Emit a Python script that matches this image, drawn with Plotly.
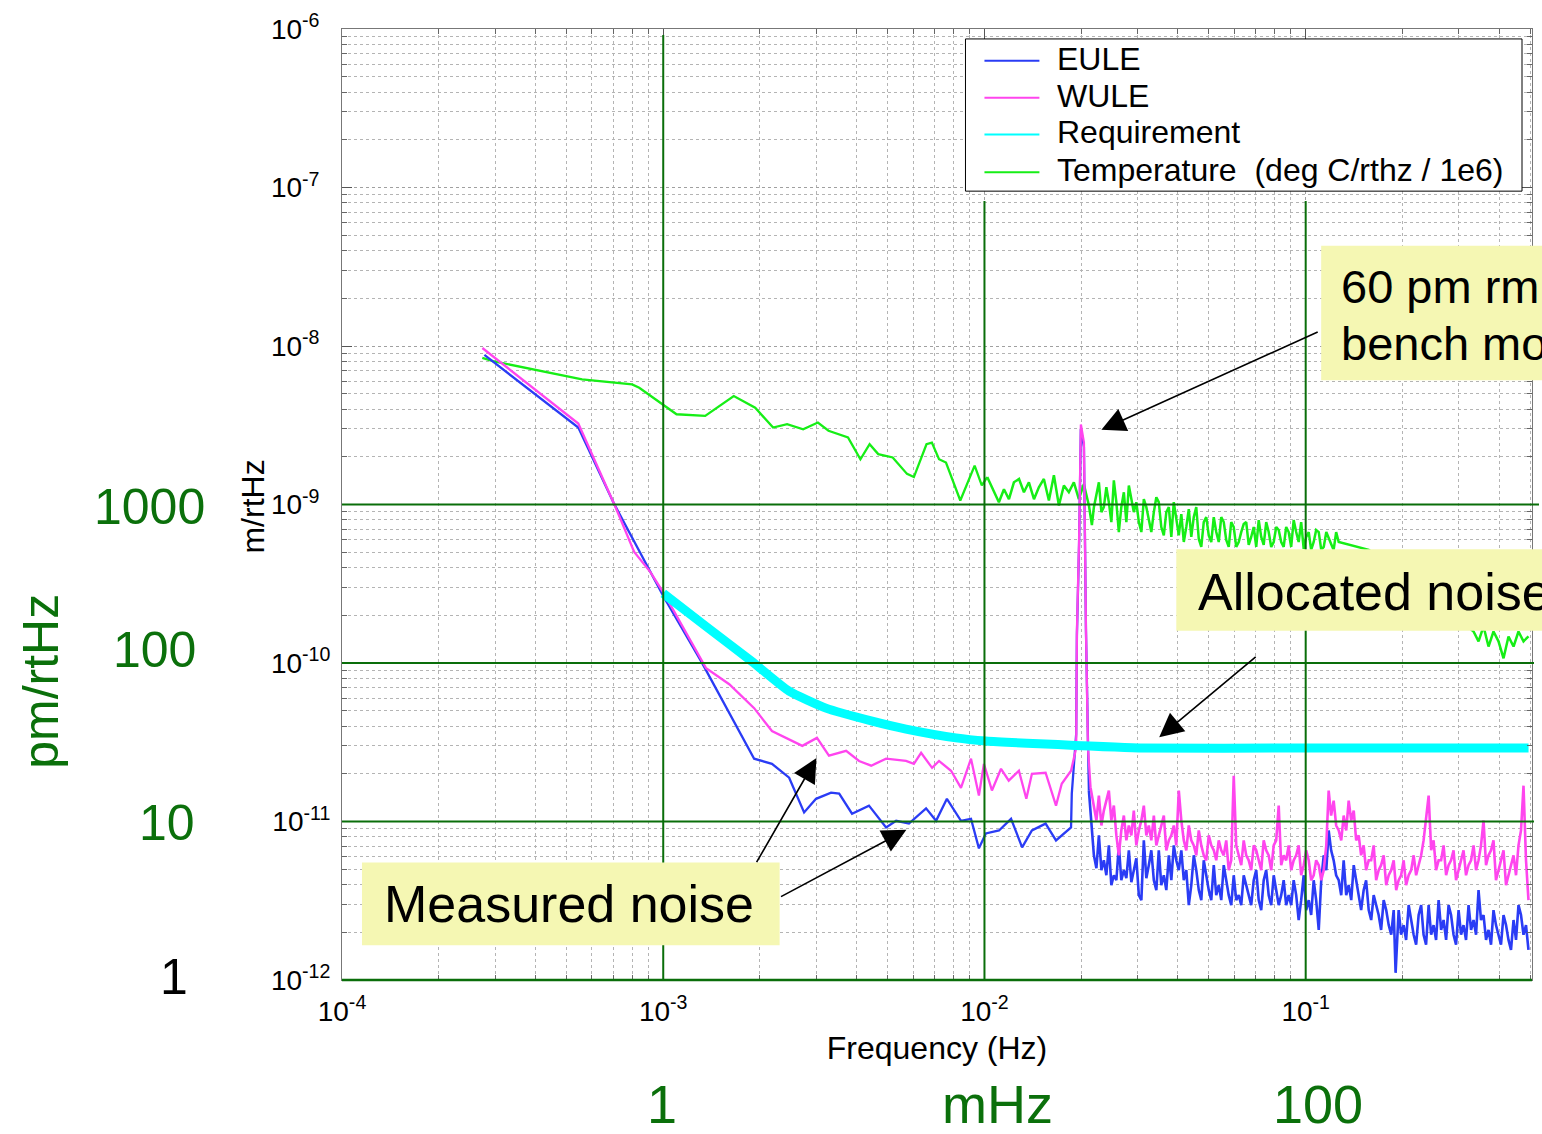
import plotly.graph_objects as go

# ---------------- data (frequency in mHz, amplitude in pm/rtHz; temperature in mK/rtHz) ----------------
eule_f_mhz = [0.2775, 0.544, 0.704, 1.007, 1.313, 1.919, 2.18, 2.466, 2.745, 2.99, 3.33, 3.53, 3.87, 4.37,
              4.94, 5.31, 5.82, 6.58, 7.07, 7.64, 8.45, 9.08, 9.61, 10.1, 11.1, 12.1, 13.1, 14.05, 15.5,
              16.7, 18.6, 18.7, 19.3, 19.4, 19.7, 19.96, 20.4, 20.7, 21.14,
              21.91, 22.71, 23.53, 24.39, 25.28, 26.20, 27.16, 28.15, 29.17, 30.24, 31.34, 32.48, 33.67,
              34.89, 36.17, 37.49, 38.85, 40.27, 41.74, 43.26, 44.83, 46.47, 48.16, 49.92, 51.74, 53.62,
              55.58, 57.60, 59.70, 61.88, 64.13, 66.47, 68.90, 71.41, 74.01, 76.71, 79.51, 82.41, 85.41,
              88.52, 91.75, 95.10, 98.57, 102.2, 105.9, 109.8, 113.8, 117.9, 122.2, 126.7, 131.3, 136.1,
              141.1, 146.2, 151.5, 157.1, 162.8, 168.7, 174.9, 181.3, 187.9, 190.5, 194.7, 201.8, 209.2,
              216.8, 224.7, 232.8, 241.4, 250.1, 259.3, 268.7, 278.5, 288.6, 299.2, 310.0, 321.4, 333.1,
              345.2, 357.8, 370.8, 384.3, 398.3, 412.9, 427.9, 443.6, 459.7, 476.5, 493.8]
eule_pm = [8780, 3058, 1005, 258, 102.4, 24.9, 23.1, 18.9, 11.4, 13.9, 15.2, 15.0, 11.2, 12.6,
           9.17, 10.1, 9.7, 12.1, 10.1, 13.9, 10.1, 10.4, 6.77, 8.41, 8.78, 10.4, 6.87, 8.78, 9.7,
           7.6, 9.17, 15.0, 35.7, 150, 550, 3000, 2300, 160, 15.65,
           6.12, 8.17, 5.69, 7.07, 4.58, 7.07, 4.93, 6.58, 4.93, 3.43, 7.60, 5.30, 4.26,
           6.58, 4.58, 6.12, 7.07, 4.93, 4.26, 2.97, 6.12, 3.69, 5.69, 3.69, 5.30, 3.97,
           5.30, 3.43, 4.58, 3.43, 4.58, 3.43, 4.26, 3.19, 4.26, 3.43, 4.58, 2.97, 4.26,
           3.43, 4.26, 2.39, 4.58, 3.19, 4.26, 2.07, 6.12, 8.78, 5.69, 4.26, 5.69, 3.97,
           5.30, 3.43, 3.69, 2.76, 3.43, 2.57, 3.19, 2.22, 2.76, 1.11, 2.76, 2.22, 2.97,
           1.93, 2.57, 1.93, 2.97, 2.22, 3.19, 2.39, 2.97, 1.93, 2.76, 2.22, 2.97, 2.39,
           3.69, 2.57, 2.07, 2.76, 1.93, 2.57, 1.79, 2.39, 2.97, 1.93, 1.55]
# additional in-between readings of the dense high-frequency band
eule_extra_f_mhz = [22.31, 23.12, 23.96, 24.83, 25.74, 26.67, 27.65, 28.66, 29.70, 30.79, 31.91, 33.07,
                    34.28, 35.52, 36.82, 38.17, 39.55, 41.00, 42.49, 44.04, 45.64, 47.31, 49.03, 50.82,
                    52.67, 54.59, 56.58, 58.64, 60.78, 63.00, 65.29, 67.67, 70.15, 72.70, 75.35, 78.10,
                    80.95, 83.90, 86.95, 90.12, 93.41, 96.82, 100.35, 104.0, 107.8, 111.8, 115.9, 120.0,
                    124.4, 129.0, 133.7, 138.6, 143.6, 148.8, 154.2, 159.9, 165.7, 171.7, 178.1, 184.6,
                    198.2, 205.4, 213.0, 220.7, 228.8, 237.0, 245.8, 254.6, 264.0, 273.6, 283.5, 293.8,
                    304.6, 315.6, 327.2, 339.1, 351.4, 364.3, 377.5, 391.2, 405.5, 420.4, 435.6, 451.6,
                    468.0, 485.1]
eule_extra_pm = [5.07, 4.93, 4.58, 3.97, 4.26, 4.26, 4.39, 4.14, 5.86, 3.19, 4.39, 6.58,
                 3.69, 3.97, 3.69, 4.26, 5.69, 6.58, 4.93, 3.97, 4.93, 3.19, 4.58, 3.19,
                 3.43, 3.19, 4.26, 2.97, 3.19, 2.97, 3.97, 2.97, 4.93, 2.76, 4.93, 2.97,
                 3.69, 3.43, 2.97, 2.97, 3.43, 3.19, 2.76, 2.57, 3.19, 4.26, 4.93, 6.58,
                 4.58, 3.43, 3.43, 3.19, 4.26, 2.76, 4.26, 2.39, 2.97, 2.07, 2.76, 1.93,
                 1.93, 1.79, 2.39, 1.67, 2.97, 1.67, 1.93, 1.79, 2.07, 1.79, 2.57, 1.67,
                 1.93, 1.79, 2.07, 1.93, 2.39, 1.79, 1.67, 2.22, 1.67, 2.22, 1.55, 1.79,
                 2.57, 2.22]

wule_f_mhz = [0.2735, 0.544, 0.704, 0.812, 0.911, 1.007, 1.36, 1.605, 1.919, 2.18, 2.71, 3.01, 3.28, 3.71,
              4.07, 4.44, 4.94, 5.70, 6.03, 6.35, 6.87, 7.22, 7.87, 8.45, 9.08, 9.61, 9.96, 10.55, 11.26,
              11.9, 12.8, 13.5, 14.05, 15.5, 16.7, 17.4, 18.6, 19.3, 19.4, 19.7, 19.96, 20.4, 20.7, 21.0,
              21.4,
              21.91, 22.71, 23.53, 24.39, 25.28, 26.20, 27.16, 28.15, 29.17, 30.24, 31.34, 32.48, 33.67,
              34.89, 36.17, 37.49, 38.85, 40.27, 41.74, 43.26, 44.83, 46.47, 48.16, 49.92, 51.74, 53.62,
              55.58, 57.60, 59.70, 61.88, 64.13, 66.47, 68.90, 71.41, 74.01, 76.71, 79.51, 82.41, 85.41,
              88.52, 91.75, 95.10, 98.57, 102.2, 105.9, 109.8, 113.8, 117.9, 122.2, 126.7, 131.3, 136.1,
              141.1, 146.2, 151.5, 157.1, 162.8, 168.7, 174.9, 181.3, 187.9, 194.7, 201.8, 209.2,
              216.8, 224.7, 232.8, 241.4, 250.1, 259.3, 268.7, 278.5, 288.6, 299.2, 310.0, 321.4, 333.1,
              345.2, 357.8, 370.8, 384.3, 398.3, 412.9, 427.9, 443.6, 459.7, 476.5, 493.8]
wule_pm = [9717, 3240, 1005, 502, 376, 273, 92.6, 73.5, 51.9, 37.2, 30.0, 33.7, 26.0, 27.9,
           24.1, 22.5, 24.9, 24.1, 23.1, 27.1, 21.8, 24.1, 20.9, 16.3, 24.9, 14.6, 23.1, 15.7, 21.5,
           18.1, 20.9, 13.9, 20.0, 20.3, 12.6, 17.3, 20.9, 29.1, 158, 580, 3194, 2462, 165, 29.1,
           16.3,
           12.6, 14.56, 11.72, 15.65, 12.6, 6.12, 10.9, 9.44, 11.72, 8.78, 12.6, 9.44, 10.9,
           8.17, 10.9, 7.60, 9.44, 15.65, 7.60, 9.44, 7.07, 8.78, 6.12, 8.17, 6.58, 7.60,
           6.12, 4.93, 19.45, 6.12, 7.60, 5.69, 7.07, 5.69, 7.60, 6.12, 7.07, 12.6, 6.12,
           7.07, 5.69, 7.07, 5.30, 5.69, 4.58, 5.30, 4.93, 15.65, 13.54, 8.78, 10.9, 13.54,
           11.72, 8.17, 7.07, 5.69, 7.07, 4.93, 6.12, 4.58, 5.69, 4.26, 5.69, 4.58,
           6.12, 5.30, 7.60, 14.56, 7.60, 5.69, 7.07, 5.30, 6.58, 4.93, 6.58, 5.30, 7.07,
           5.69, 10.15, 6.12, 7.60, 4.93, 6.58, 4.58, 6.12, 7.07, 16.83, 3.19]
wule_extra_f_mhz = [22.31, 23.12, 23.96, 24.83, 25.74, 26.67, 27.65, 28.66, 29.70, 30.79, 31.91, 33.07,
                    34.28, 35.52, 36.82, 38.17, 39.55, 41.00, 42.49, 44.04, 45.64, 47.31, 49.03, 50.82,
                    52.67, 54.59, 56.58, 58.64, 60.78, 63.00, 65.29, 67.67, 70.15, 72.70, 75.35, 78.10,
                    80.95, 83.90, 86.95, 90.12, 93.41, 96.82, 100.35, 104.0, 107.8, 111.8, 115.9, 120.0,
                    124.4, 129.0, 133.7, 138.6, 143.6, 148.8, 154.2, 159.9, 165.7, 171.7, 178.1, 184.6,
                    191.3, 198.2, 205.4, 213.0, 220.7, 228.8, 237.0, 245.8, 254.6, 264.0, 273.6, 283.5,
                    293.8, 304.6, 315.6, 327.2, 339.1, 351.4, 364.3, 377.5, 391.2, 405.5, 420.4, 435.6,
                    451.6, 468.0, 485.1]
wule_extra_pm = [10.15, 9.44, 13.54, 10.15, 8.17, 8.78, 7.60, 8.17, 7.07, 10.15, 8.17, 7.60,
                 7.07, 9.44, 6.58, 8.17, 7.07, 10.15, 6.58, 7.60, 6.12, 7.07, 5.69, 7.07,
                 5.69, 6.58, 7.60, 5.69, 7.07, 5.30, 6.12, 4.93, 6.58, 4.93, 6.58, 4.93,
                 7.60, 5.30, 5.69, 4.93, 6.12, 4.58, 6.58, 4.26, 5.69, 4.26, 7.07, 10.9,
                 9.44, 7.60, 8.78, 10.15, 7.60, 6.12, 4.93, 5.69, 4.26, 5.30, 3.97, 4.93,
                 3.69, 4.58, 3.97, 4.93, 4.58, 6.12, 10.15, 6.58, 4.93, 5.69, 4.58, 5.69,
                 4.26, 5.69, 4.58, 5.69, 4.93, 7.07, 5.30, 6.58, 4.26, 5.69, 3.97, 5.30,
                 4.58, 8.78, 5.69]

req_f_mhz = [1.0, 1.36, 1.891, 2.466, 3.21, 4.47, 5.70, 8.15, 10.1, 14.8, 30.2, 100, 494]
req_pm = [275, 170, 102, 66.4, 51.9, 43.0, 38.3, 33.7, 32.2, 30.9, 29.1, 29.1, 29.1]

temp_f_mhz = [0.2734, 0.295, 0.559, 0.80, 0.842, 1.007, 1.10, 1.351, 1.658, 1.933, 2.198, 2.43, 2.726,
              3.03, 3.27, 3.76, 4.11, 4.39, 4.67, 5.18, 5.74, 6.03, 6.60, 6.86, 7.22, 7.59, 8.41, 9.32,
              9.81, 10.2,
              11.09, 11.50, 11.92, 12.35, 12.81, 13.27, 13.75, 14.26, 14.77, 15.31, 15.87, 16.45, 17.05,
              17.67, 18.31, 18.98, 19.67, 20.39, 21.14, 21.60, 21.91, 22.71, 23.53, 24.39, 25.28, 26.20,
              27.16, 28.15, 29.17, 30.24, 31.34, 32.48, 33.67, 34.89, 36.17, 37.49, 38.85, 40.27, 41.74,
              43.26, 44.83, 46.47, 48.16, 49.92, 51.74, 53.62, 55.58, 57.60, 59.70, 61.88, 64.13, 66.47,
              68.90, 71.41, 74.01, 76.71, 79.51, 82.41, 85.41, 88.52, 91.75, 95.10, 98.57, 102.2, 105.9,
              109.8, 113.8, 117.9, 122.2, 126.7, 157.1, 194.7, 259.3,
              333.1, 345.2, 357.8, 370.8, 384.3, 398.3, 412.9, 427.9, 443.6, 459.7, 476.5, 493.8]
temp_mk = [8.41, 8.02, 6.15, 5.72, 5.45, 4.18, 3.71, 3.62, 4.83, 4.08, 3.06, 3.21, 2.98,
           3.29, 2.92, 2.65, 1.93, 2.40, 2.08, 1.98, 1.56, 1.49, 2.40, 2.46, 1.93, 1.84, 1.06, 1.76,
           1.32, 1.49,
           1.034, 1.249, 1.080, 1.381, 1.449, 1.195, 1.381, 1.080, 1.285, 1.449, 1.06, 1.528, 0.986,
           1.317, 1.195, 1.381, 1.080, 1.342, 0.986, 0.742, 0.962, 1.381, 0.962, 1.034, 1.421, 0.670,
           1.195, 1.317, 0.895, 0.775, 1.080, 0.797, 0.895, 1.034, 0.639, 0.962, 1.034, 0.639, 0.580,
           0.935, 0.833, 0.606, 0.775, 0.639, 0.833, 0.580, 0.775, 0.540, 0.721, 0.580, 0.753, 0.556,
           0.721, 0.797, 0.556, 0.670, 0.580, 0.690, 0.540, 0.670, 0.797, 0.580, 0.524, 0.670, 0.580,
           0.670, 0.540, 0.606, 0.517, 0.580, 0.517, 0.376, 0.244,
           0.158, 0.137, 0.170, 0.127, 0.158, 0.137, 0.107, 0.147, 0.127, 0.158, 0.137, 0.147]
temp_extra_f_mhz = [23.12, 23.96, 24.83, 25.74, 26.67, 27.65, 28.66, 29.70, 30.79, 31.91, 33.07, 34.28,
                    35.52, 36.82, 38.17, 39.55, 41.00, 42.49, 44.04, 45.64, 47.31, 49.03, 50.82, 52.67,
                    54.59, 56.58, 58.64, 60.78, 63.00, 65.29, 67.67, 70.15, 72.70, 75.35, 78.10, 80.95,
                    83.90, 86.95, 90.12, 93.41, 96.82, 100.35, 104.0, 107.8, 111.8, 115.9, 120.0, 124.4]
temp_extra_mk = [0.895, 1.285, 0.775, 1.034, 0.962, 0.775, 1.112, 1.034, 0.670, 0.962, 0.670, 1.112,
                 0.721, 0.895, 0.624, 0.833, 0.870, 0.721, 0.624, 0.962, 0.540, 0.833, 0.580, 0.670,
                 0.833, 0.597, 0.775, 0.540, 0.670, 0.775, 0.624, 0.540, 0.624, 0.775, 0.540, 0.721,
                 0.580, 0.721, 0.540, 0.670, 0.775, 0.624, 0.517, 0.690, 0.517, 0.670, 0.564, 0.670]

legend_names = ["EULE", "WULE", "Requirement", "Temperature\u00a0\u00a0(deg C/rthz / 1e6)"]
x_tick_exp = [-4, -3, -2, -1]
y_tick_exp = [-12, -11, -10, -9, -8, -7, -6]

# unit conversions to the plotted units (Hz, m/rtHz)
MHZ = 1e-3
PM = 1e-12
TEMP_SCALE = 1e-3 / 1e6   # mK -> deg C, then divided by 1e6 as in the legend


def merged(f1, v1, f2, v2):
    pairs = sorted(zip(list(f1) + list(f2), list(v1) + list(v2)))
    return [p[0] for p in pairs], [p[1] for p in pairs]


# ---------------- figure ----------------
XMIN, XMAX = -4.0, -0.2955
YMIN, YMAX = -12.0, -6.0
PLOT_L, PLOT_R, PLOT_T, PLOT_B = 342, 1533, 24, 980   # plot-area frame of the page


def xp(logf):
    return (logf - XMIN) / (XMAX - XMIN)


def yp(logv):
    return (logv - YMIN) / (YMAX - YMIN)


def px_x(px):   # page pixel -> paper fraction (overlay decorations only)
    return (px - PLOT_L) / (PLOT_R - PLOT_L)


def px_y(py):
    return (PLOT_B - py) / (PLOT_B - PLOT_T)


def tick_label(e, width):
    s = "-%d" % (-e)
    pad = "\u2007" * (width - len(s))
    return "10<sup>%s%s</sup>" % (s, pad)


def minor_vals(exps):
    return [k * 10.0 ** e for e in exps for k in range(2, 10)]


BLUE = "#2a3cf5"
PINK = "#ff45ee"
CYAN = "#00ffff"
LIME = "#16ee16"
DKGREEN = "#0a6e0a"
TXTGREEN = "#0b700b"
FONT = "Liberation Sans, Arial, Helvetica, sans-serif"
COLORS = [BLUE, PINK, CYAN, LIME]

fig = go.Figure()


def add_split(f_mhz, vals, scale, split_mhz, color, w_low, w_high, name):
    """Draw one series; the dense high-frequency part is drawn with a heavier stroke."""
    lo = [(f, v) for f, v in zip(f_mhz, vals) if f <= split_mhz]
    hi = [(f, v) for f, v in zip(f_mhz, vals) if f >= split_mhz]
    for part, w in ((lo, w_low), (hi, w_high)):
        fig.add_trace(go.Scatter(x=[p[0] * MHZ for p in part], y=[p[1] * scale for p in part],
                                 mode="lines", line=dict(color=color, width=w),
                                 name=name, legendgroup=name))


tf, tv = merged(temp_f_mhz, temp_mk, temp_extra_f_mhz, temp_extra_mk)
ef, ev = merged(eule_f_mhz, eule_pm, eule_extra_f_mhz, eule_extra_pm)
wf, wv = merged(wule_f_mhz, wule_pm, wule_extra_f_mhz, wule_extra_pm)

add_split(tf, tv, TEMP_SCALE, 10.2, LIME, 2.3, 2.5, legend_names[3])
add_split(ef, ev, PM, 21.14, BLUE, 2.3, 2.6, legend_names[0])
add_split(wf, wv, PM, 21.4, PINK, 2.3, 2.6, legend_names[1])
fig.add_trace(go.Scatter(x=[f * MHZ for f in req_f_mhz], y=[v * PM for v in req_pm], mode="lines",
                         line=dict(color=CYAN, width=9, shape="spline", smoothing=0.5),
                         name=legend_names[2]))

axis_common = dict(
    type="log", tickmode="array",
    showgrid=True, gridcolor="#a0a0a0", griddash="dot", gridwidth=1,
    ticks="inside", ticklen=10, tickcolor="#555", tickwidth=1,
    showline=True, linecolor="#777", linewidth=1, mirror="ticks", zeroline=False,
    tickfont=dict(family=FONT, size=28, color="black"),
)
minor_common = dict(tickmode="array", showgrid=True, gridcolor="#b4b4b4", griddash="dot", gridwidth=1,
                    ticks="inside", ticklen=5, tickcolor="#666")
fig.update_xaxes(range=[XMIN, XMAX], ticklabelstandoff=6,
                 tickvals=[10.0 ** e for e in x_tick_exp],
                 ticktext=[tick_label(e, 2) for e in x_tick_exp],
                 minor=dict(tickvals=minor_vals(range(-4, 0)), **minor_common),
                 title=dict(text="Frequency (Hz)", font=dict(family=FONT, size=32, color="black"), standoff=11),
                 **axis_common)
fig.update_yaxes(range=[YMIN, YMAX], ticklabelstandoff=5,
                 tickvals=[10.0 ** e for e in y_tick_exp],
                 ticktext=[tick_label(e, 3) for e in y_tick_exp],
                 minor=dict(tickvals=minor_vals(range(-12, -6)), **minor_common),
                 **axis_common)

shapes = []
# dark-green decade lines drawn over the plot
shapes.append(dict(type="line", xref="paper", yref="paper", x0=xp(-3), x1=xp(-3), y0=0, y1=px_y(30),
                   line=dict(color=DKGREEN, width=2), layer="above"))
for e in (-2, -1):
    shapes.append(dict(type="line", xref="paper", yref="paper", x0=xp(e), x1=xp(e), y0=0, y1=px_y(197),
                       line=dict(color=DKGREEN, width=2), layer="above"))
shapes.append(dict(type="line", xref="paper", yref="paper", x0=0, x1=px_x(1540), y0=yp(-9), y1=yp(-9),
                   line=dict(color=DKGREEN, width=2), layer="above"))
for e in (-10, -11):
    shapes.append(dict(type="line", xref="paper", yref="paper", x0=0, x1=px_x(1535), y0=yp(e), y1=yp(e),
                       line=dict(color=DKGREEN, width=2), layer="above"))
shapes.append(dict(type="line", xref="paper", yref="paper", x0=0, x1=1.0, y0=0, y1=0,
                   line=dict(color=DKGREEN, width=2.5), layer="above"))

# legend box (drawn manually to match the original's spacing)
LEG_L, LEG_R, LEG_T, LEG_B = 966, 1523, 34, 187
shapes.append(dict(type="rect", xref="paper", yref="paper", x0=px_x(LEG_L), x1=px_x(LEG_R),
                   y0=px_y(LEG_B), y1=px_y(LEG_T), fillcolor="white",
                   line=dict(color="black", width=1), layer="above"))
LEG_ROWS = [56, 93, 130, 168]
for row, col in zip(LEG_ROWS, COLORS):
    shapes.append(dict(type="line", xref="paper", yref="paper", x0=px_x(985), x1=px_x(1040),
                       y0=px_y(row), y1=px_y(row), line=dict(color=col, width=2), layer="above"))

# yellow callout boxes
BOXY = "#f5f7b3"
for (l, r, t, b) in [(1322, 1580, 242, 377), (1177, 1580, 547, 629), (362, 780, 862, 945)]:
    shapes.append(dict(type="rect", xref="paper", yref="paper", x0=px_x(l), x1=px_x(r),
                       y0=px_y(b), y1=px_y(t), fillcolor=BOXY, line=dict(width=0), layer="above"))

annotations = []
# arrows (tip, tail) in log10 axis units
arrows = [((-1.636, -8.529), (-0.958, -7.908)),
          ((-1.456, -10.469), (-1.151, -9.954)),
          ((-2.523, -10.600), (-2.712, -11.266)),
          ((-2.243, -11.052), (-2.638, -11.479))]
for (tx, ty), (ax, ay) in arrows:
    annotations.append(dict(x=tx, y=ty, xref="x", yref="y", ax=ax, ay=ay, axref="x", ayref="y",
                            text="", showarrow=True, arrowhead=2, arrowsize=3.0, arrowwidth=1.6,
                            arrowcolor="black", standoff=0))


def label(text, x, y, size, color="black", xanchor="left", yanchor="middle", angle=0, family=FONT):
    annotations.append(dict(text=text, x=x, y=y, xref="paper", yref="paper", showarrow=False,
                            xanchor=xanchor, yanchor=yanchor, textangle=angle,
                            font=dict(family=family, size=size, color=color)))


# legend texts
for row, name in zip(LEG_ROWS, legend_names):
    label(name, px_x(1056), px_y(row - 2), 32)

label("m/rtHz", px_x(253), px_y(504), 32, angle=-90, xanchor="center")

label("60 pm rm", px_x(1340), px_y(283), 47)
label("bench mo", px_x(1340), px_y(340), 47)
label("Allocated noise", px_x(1197), px_y(590), 52)
label("Measured noise", px_x(382), px_y(904), 52)

# overlay pm/rtHz and mHz scale labels
label("1000", px_x(207), px_y(505), 50, TXTGREEN, xanchor="right")
label("100", px_x(198), px_y(648), 50, TXTGREEN, xanchor="right")
label("10", px_x(197), px_y(822), 50, TXTGREEN, xanchor="right")
label("1", px_x(190), px_y(977), 50, "black", xanchor="right")
label("pm/rtHz", px_x(40), px_y(680), 50, TXTGREEN, xanchor="center", angle=-90)
label("1", px_x(662), px_y(1105), 54, TXTGREEN, xanchor="center")
label("mHz", px_x(998), px_y(1105), 54, TXTGREEN, xanchor="center")
label("100", px_x(1319), px_y(1105), 54, TXTGREEN, xanchor="center")

fig.update_layout(
    width=1542, height=1134,
    margin=dict(l=PLOT_L, r=1542 - PLOT_R, t=PLOT_T, b=1134 - PLOT_B),
    paper_bgcolor="white", plot_bgcolor="white",
    font=dict(family=FONT, size=27, color="black"),
    showlegend=False,
    shapes=shapes,
    annotations=annotations,
)

fig.write_html("out.html", config={"displayModeBar": False},
               post_script="document.body.style.margin='0';")
